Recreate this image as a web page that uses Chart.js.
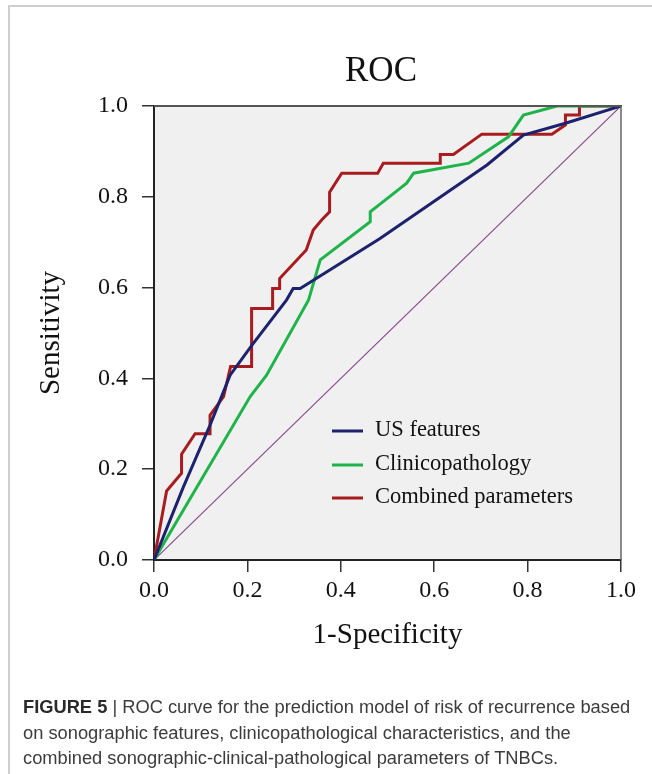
<!DOCTYPE html>
<html>
<head>
<meta charset="utf-8">
<script src="https://cdn.jsdelivr.net/npm/chart.js@4.4.1/dist/chart.umd.min.js"></script>
<style>
  html, body { margin: 0; padding: 0; background: #fff; }
  #wrap { position: relative; width: 652px; height: 774px; overflow: hidden; }
  #frame { position: absolute; left: 8px; top: 5px; right: -10px; bottom: -10px;
           border-top: 2px solid #cfcfcf; border-left: 2px solid #cfcfcf; }
  canvas { position: absolute; left: 0; top: 0; }
  #caption { position: absolute; left: 23px; top: 694px; width: 640px; white-space: nowrap;
             font-family: "Liberation Sans", Arial, sans-serif; font-size: 18.3px;
             line-height: 25.5px; color: #3c3c3c; }
  #caption b { color: #2a2a2a; }
</style>
</head>
<body>
<div id="wrap">
  <div id="frame"></div>
  <canvas id="c" width="652" height="774"></canvas>
  <div id="caption"><b>FIGURE 5</b> | ROC curve for the prediction model of risk of recurrence based<br>on sonographic features, clinicopathological characteristics, and the<br>combined sonographic-clinical-pathological parameters of TNBCs.</div>
</div>
<script>
// ---- data ----
const chartTitle = "ROC";
const xTitle = "1-Specificity";
const yTitle = "Sensitivity";
const tickValues = [0, 0.2, 0.4, 0.6, 0.8, 1.0];
const seriesNames = ["US features", "Clinicopathology", "Combined parameters"];

const usX = [0, 0.063, 0.12, 0.163, 0.209, 0.284, 0.298, 0.313, 0.484, 0.713, 0.791, 0.881, 1.0];
const usY = [0, 0.161, 0.297, 0.407, 0.472, 0.573, 0.598, 0.598, 0.708, 0.870, 0.936, 0.962, 1.0];

const clinX = [0, 0.206, 0.241, 0.331, 0.356, 0.463, 0.463, 0.484, 0.541, 0.556, 0.674, 0.759, 0.791, 0.863, 1.0];
const clinY = [0, 0.360, 0.407, 0.573, 0.661, 0.745, 0.767, 0.784, 0.830, 0.852, 0.874, 0.932, 0.980, 1.0, 1.0];

const combX = [0, 0.027, 0.059, 0.059, 0.088, 0.120, 0.120, 0.149, 0.164, 0.209, 0.209, 0.254, 0.254, 0.269, 0.269, 0.326, 0.341, 0.359, 0.376, 0.376, 0.402, 0.479, 0.491, 0.613, 0.613, 0.641, 0.702, 0.852, 0.881, 0.881, 0.911, 0.911, 1.0];
const combY = [0, 0.152, 0.191, 0.233, 0.278, 0.278, 0.319, 0.360, 0.426, 0.426, 0.554, 0.554, 0.598, 0.598, 0.620, 0.683, 0.727, 0.749, 0.767, 0.810, 0.852, 0.852, 0.874, 0.874, 0.893, 0.893, 0.938, 0.938, 0.958, 0.980, 0.980, 1.0, 1.0];

const refX = [0, 1];
const refY = [0, 1];

const colors = ["#1c226e", "#1fb449", "#a81c1f"];
const refColor = "#8c4a8f";

const pts = (xs, ys) => xs.map((x, i) => ({x: x, y: ys[i]}));
const serif = '"Liberation Serif", "Times New Roman", serif';

const bgPlugin = {
  id: 'bg',
  beforeDraw(chart) {
    const {ctx, chartArea: a} = chart;
    ctx.save();
    ctx.fillStyle = '#f0f0f0';
    ctx.fillRect(a.left, a.top, a.right - a.left, a.bottom - a.top);
    ctx.restore();
  },
  afterDraw(chart) {
    const {ctx, chartArea: a} = chart;
    ctx.save();
    ctx.strokeStyle = '#555';
    ctx.lineWidth = 2;
    ctx.beginPath(); ctx.moveTo(a.left, a.top); ctx.lineTo(a.right + 1, a.top); ctx.stroke();
    ctx.strokeStyle = '#666';
    ctx.lineWidth = 1.5;
    ctx.beginPath(); ctx.moveTo(a.right, a.top); ctx.lineTo(a.right, a.bottom); ctx.stroke();
    ctx.fillStyle = '#111';
    ctx.font = '35px ' + serif;
    ctx.textAlign = 'center';
    ctx.textBaseline = 'alphabetic';
    ctx.fillText(chartTitle, 381, 81);
    const rows = [431, 465, 498];
    ctx.font = '22.5px ' + serif;
    ctx.textAlign = 'left';
    ctx.textBaseline = 'middle';
    for (let i = 0; i < 3; i++) {
      ctx.strokeStyle = colors[i];
      ctx.lineWidth = 3;
      ctx.beginPath(); ctx.moveTo(332, rows[i]); ctx.lineTo(363, rows[i]); ctx.stroke();
      ctx.fillStyle = '#111';
      ctx.fillText(chart.data.datasets[i].label, 375, rows[i] - 1);
    }
    ctx.restore();
  }
};

new Chart(document.getElementById('c'), {
  type: 'scatter',
  data: {
    datasets: [
      {label: seriesNames[0], data: pts(usX, usY), borderColor: colors[0], borderWidth: 3},
      {label: seriesNames[1], data: pts(clinX, clinY), borderColor: colors[1], borderWidth: 3},
      {label: seriesNames[2], data: pts(combX, combY), borderColor: colors[2], borderWidth: 3},
      {label: 'Reference', data: pts(refX, refY), borderColor: refColor, borderWidth: 1.2}
    ].map(d => Object.assign(d, {showLine: true, pointRadius: 0, pointHoverRadius: 0, tension: 0, fill: false}))
  },
  options: {
    responsive: false,
    animation: false,
    events: [],
    layout: {padding: {left: 0, top: 106, right: 31, bottom: 0}},
    plugins: {legend: {display: false}, tooltip: {enabled: false}, title: {display: false}},
    scales: {
      x: {
        type: 'linear', min: 0, max: 1,
        afterFit(s) { s.height = 214; },
        afterBuildTicks(s) { s.ticks = tickValues.map(v => ({value: v})); },
        ticks: {font: {family: serif, size: 24}, color: '#111', padding: 4,
                callback: v => Number(v).toFixed(1)},
        grid: {drawOnChartArea: false, drawTicks: true, tickLength: 12, color: '#333', lineWidth: 1.5},
        border: {display: true, color: '#222', width: 2},
        title: {display: true, text: xTitle, font: {family: serif, size: 29}, color: '#111',
                padding: {top: 0, bottom: 121}}
      },
      y: {
        type: 'linear', min: 0, max: 1,
        afterFit(s) { s.width = 154; },
        afterBuildTicks(s) { s.ticks = tickValues.map(v => ({value: v})); },
        ticks: {font: {family: serif, size: 24}, color: '#111', padding: 14,
                callback: v => Number(v).toFixed(1)},
        grid: {drawOnChartArea: false, drawTicks: true, tickLength: 12, color: '#333', lineWidth: 1.5},
        border: {display: true, color: '#222', width: 2},
        title: {display: true, text: yTitle, font: {family: serif, size: 29}, color: '#111',
                padding: {top: 34, bottom: 0}}
      }
    }
  },
  plugins: [bgPlugin]
});
</script>
</body>
</html>
